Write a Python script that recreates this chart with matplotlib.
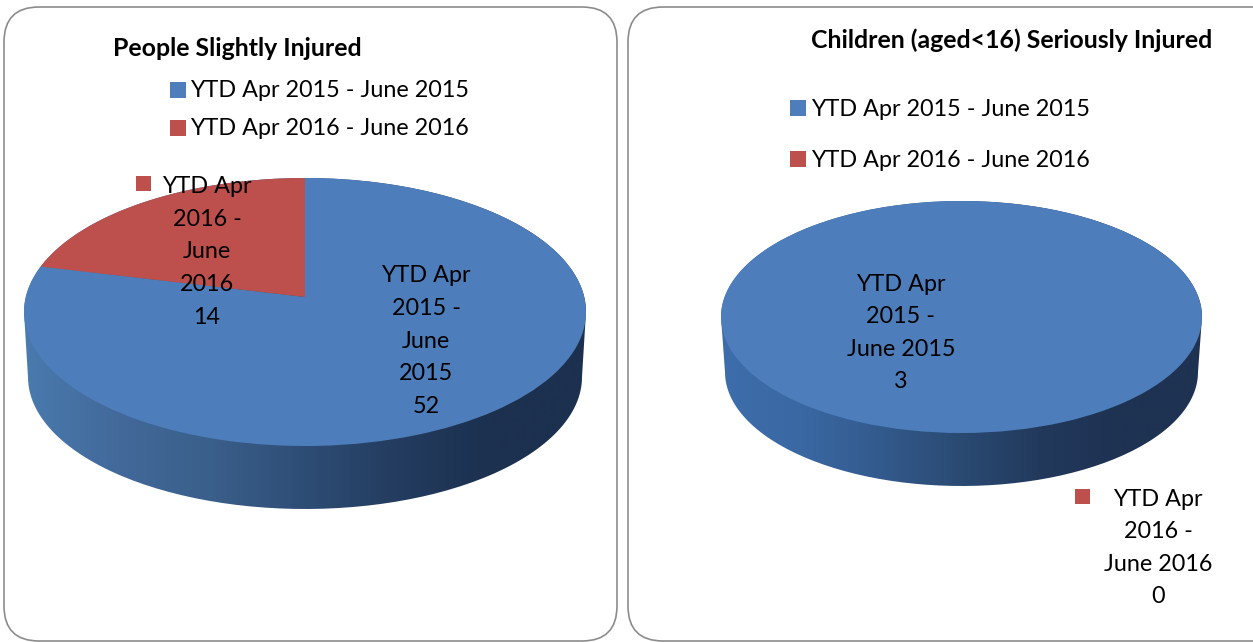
import matplotlib
matplotlib.use("Agg")
import matplotlib.pyplot as plt
import numpy as np
from matplotlib.colors import LinearSegmentedColormap
from matplotlib.patches import FancyBboxPatch, PathPatch, Rectangle
from matplotlib.path import Path

plt.rcParams['font.family'] = ['Lato', 'DejaVu Sans']

series = ["YTD Apr 2015 - June 2015", "YTD Apr 2016 - June 2016"]
colors = ["#4d7ebb", "#bd4f4c"]
title_left = "People Slightly Injured"
title_right = "Children (aged<16) Seriously Injured"
values_left = [52, 14]
values_right = [3, 0]
labels_left = ["YTD Apr\n2015 -\nJune\n2015", "YTD Apr\n2016 -\nJune\n2016"]
labels_right = ["YTD Apr\n2015 -\nJune 2015", "YTD Apr\n2016 -\nJune 2016"]

FS = 16.8
FS_TITLE = 17.9
LS = 1.68
K = 0.112  # tilt of the pie, back edge is further away

wall_left = LinearSegmentedColormap.from_list(
    "wall_left", ["#4a7aae", "#42699a", "#3a5f8a", "#2e4d75", "#233c5f", "#1c304f", "#1c304f"])
wall_right = LinearSegmentedColormap.from_list(
    "wall_right", ["#3d6dab", "#3a68a3", "#335a8c", "#2a4a72", "#22395c", "#1e3252", "#1e3252"])


def ellipse(cx, cy, rx, ry, a, b):
    t = np.radians(np.linspace(a, b, 120))
    return np.column_stack([cx + rx * np.cos(t), cy - ry * np.sin(t)])


def draw_pie(ax, values, cx, cy, rx, ry, depth, shrink, cmap):
    # side wall first, gradient clipped to the outline
    top = ellipse(cx, cy, rx, ry, 180, 0)
    low = ellipse(cx, cy + depth, rx - shrink, ry - shrink / 2, 0, -180)
    pts = np.vstack([top, low, top[:1]])
    clip = PathPatch(Path(pts), transform=ax.transData, fc="none", ec="none")
    ax.add_patch(clip)
    grad = np.linspace(0, 1, 256).reshape(1, -1)
    im = ax.imshow(grad, cmap=cmap, aspect="auto", zorder=1,
                   extent=(cx - rx, cx + rx, cy + depth + ry, cy - ry))
    im.set_clip_path(clip)

    # real pie wedges, then pushed through the perspective
    wedges, _ = ax.pie(values, colors=colors, startangle=90, counterclock=False)
    s = ry * 2 / (1 / (1 + K) + 1 / (1 - K))
    r = rx * np.sqrt(1 - K ** 2)
    vy = cy - ry + s / (1 + K)
    for w in wedges:
        p = w.get_patch_transform().transform_path(w.get_path())
        d = 1 + K * p.vertices[:, 1]
        xy = np.column_stack([cx + r * p.vertices[:, 0] / d,
                              vy - s * p.vertices[:, 1] / d])
        ax.add_patch(PathPatch(Path(xy, p.codes), fc=w.get_facecolor(), ec="none", zorder=2))
        w.remove()


def marker(ax, x, y, size, color):
    ax.add_patch(Rectangle((x, y), size, size, fc=color, ec="none", zorder=4))


fig = plt.figure(figsize=(12.53, 6.42), dpi=100)
ax = fig.add_axes([0, 0, 1, 1])

# panels
for x0, x1 in [(4, 617), (628, 1300)]:
    ax.add_patch(FancyBboxPatch((x0 + 35, 7 + 35), x1 - x0 - 70, 641 - 7 - 70,
                                boxstyle="round,pad=35,rounding_size=35",
                                fc="white", ec="#8c8c8c", lw=1.2, zorder=0))

draw_pie(ax, values_left, 305, 312, 281, 134, 65, 4, wall_left)
draw_pie(ax, values_right, 961.5, 317, 240.5, 116, 55, 4, wall_right)

# left panel text
ax.text(237, 48, title_left, fontsize=FS_TITLE, fontweight="bold", ha="center", va="center", zorder=5)
marker(ax, 170, 82, 16, colors[0])
marker(ax, 170, 120, 16, colors[1])
ax.text(190, 90.5, series[0], fontsize=FS, va="center", zorder=5)
ax.text(190, 128.5, series[1], fontsize=FS, va="center", zorder=5)
ax.text(426, 341, labels_left[0] + "\n" + str(values_left[0]), fontsize=FS, linespacing=LS,
        ha="center", va="center", zorder=5)
marker(ax, 136, 176, 15, colors[1])
ax.text(207, 252, labels_left[1] + "\n" + str(values_left[1]), fontsize=FS, linespacing=LS,
        ha="center", va="center", zorder=5)

# right panel text
ax.text(1011.5, 40, title_right, fontsize=FS_TITLE, fontweight="bold", ha="center", va="center", zorder=5)
marker(ax, 790, 100, 16, colors[0])
marker(ax, 790, 151, 16, colors[1])
ax.text(811, 109.5, series[0], fontsize=FS, va="center", zorder=5)
ax.text(811, 160.5, series[1], fontsize=FS, va="center", zorder=5)
ax.text(901, 333, labels_right[0] + "\n" + str(values_right[0]), fontsize=FS, linespacing=LS,
        ha="center", va="center", zorder=5)
marker(ax, 1075, 489, 15, colors[1])
ax.text(1158, 548, labels_right[1] + "\n" + str(values_right[1]), fontsize=FS, linespacing=LS,
        ha="center", va="center", zorder=5)

ax.set_aspect("auto")
ax.set_xlim(0, 1253)
ax.set_ylim(642, 0)
ax.axis("off")
fig.savefig("out.png", dpi=100)
